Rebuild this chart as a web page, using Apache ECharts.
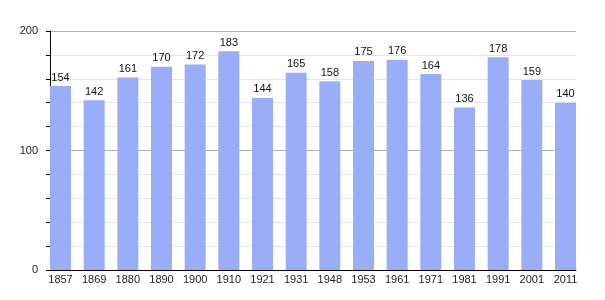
<!DOCTYPE html>
<html><head><meta charset="utf-8">
<script src="https://cdn.jsdelivr.net/npm/echarts@6/dist/echarts.min.js"></script>
<style>html,body{margin:0;padding:0;background:#fff}#c{width:605px;height:300px}</style>
</head><body><div id="c"></div>
<script>
const years = ['1857','1869','1880','1890','1900','1910','1921','1931','1948','1953','1961','1971','1981','1991','2001','2011'];
const population = [154,142,161,170,172,183,144,165,158,175,176,164,136,178,159,140];
const yTickLabels = [0,100,200];

const chart = echarts.init(document.getElementById('c'), null, {renderer:'canvas'});
const idx = years.map((_, i) => i);
chart.setOption({
  animation:false,
  grid:{left:50,right:29,top:31,bottom:30},
  xAxis:{
    type:'value', min:-0.312, max:15.312,
    axisLine:{show:true,onZero:false,lineStyle:{color:'#000',width:1}},
    axisTick:{show:false},
    splitLine:{show:false},
    axisLabel:{customValues:idx,formatter:v=>years[Math.round(v)],color:'#222',fontSize:11,fontFamily:'Liberation Sans, Arial, sans-serif',margin:4}
  },
  yAxis:{
    type:'value', min:0, max:200, interval:20,
    axisLine:{show:true,onZero:false,lineStyle:{color:'#000',width:1}},
    axisTick:{show:true,inside:false,length:4,lineStyle:{color:'#000'}},
    axisLabel:{color:'#222',fontSize:11,fontFamily:'Liberation Sans, Arial, sans-serif',margin:12,
      formatter:v=>yTickLabels.includes(v)?String(v):''},
    splitLine:{show:true,lineStyle:{color:['#b0b0b0','#e6e6e6','#e6e6e6','#e6e6e6','#e6e6e6'],width:1}}
  },
  series:[{
    type:'bar', barWidth:21,
    data: population.map((v,i)=>[i,v]),
    itemStyle:{color:'#9aadf8'},
    label:{show:true,position:'top',distance:3,color:'#111',fontSize:11,fontFamily:'Liberation Sans, Arial, sans-serif',formatter:p=>p.value[1]}
  }]
});
</script></body></html>
